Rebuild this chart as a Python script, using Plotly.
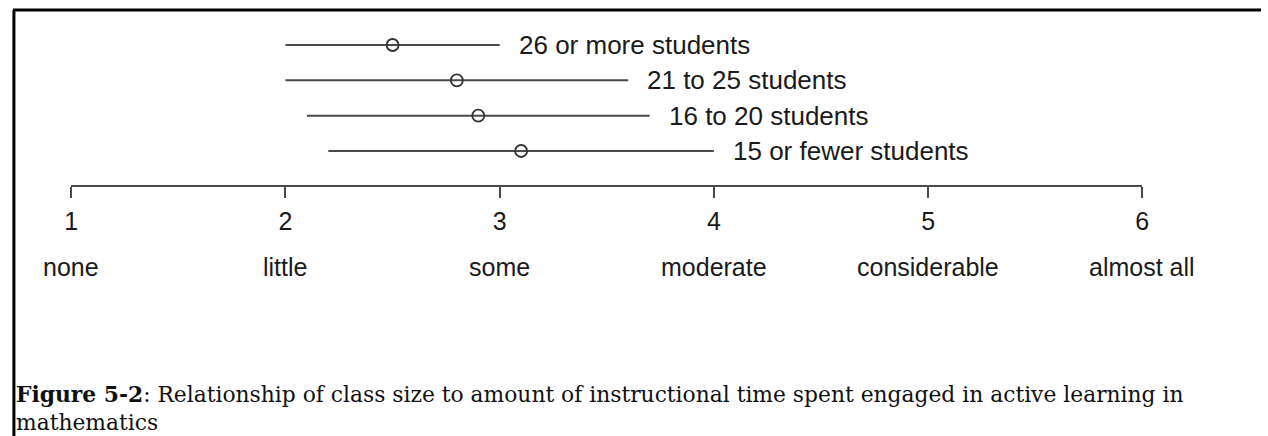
import plotly.graph_objects as go

# ---- data ----
groups = ["26 or more students", "21 to 25 students", "16 to 20 students", "15 or fewer students"]
low = [2.0, 2.0, 2.1, 2.2]
mean = [2.5, 2.8, 2.9, 3.1]
high = [3.0, 3.6, 3.7, 4.0]
rows = [1, 2, 3, 4]
tick_vals = [1, 2, 3, 4, 5, 6]
tick_names = ["none", "little", "some", "moderate", "considerable", "almost all"]
caption = ("<b>Figure 5-2</b>: Relationship of class size to amount of instructional time "
           "spent engaged in active learning in<br>mathematics")

W, H = 1268, 436
ink = "#4a4a4a"
sans = "Liberation Sans, Arial, sans-serif"

fig = go.Figure()

for g, lo, m, hi, r in zip(groups, low, mean, high, rows):
    fig.add_trace(go.Scatter(
        x=[lo, hi], y=[r, r], mode="lines",
        line=dict(color=ink, width=2), showlegend=False, hoverinfo="skip"))
    fig.add_trace(go.Scatter(
        x=[m], y=[r], mode="markers",
        marker=dict(symbol="circle-open", size=12, color="#333333", line=dict(width=1.8)),
        showlegend=False))
    fig.add_annotation(x=hi, y=r, xref="x", yref="y", text=g, showarrow=False,
                       xanchor="left", yanchor="middle", xshift=17,
                       font=dict(family=sans, size=26, color="#1a1a1a"))

for v, name in zip(tick_vals, tick_names):
    fig.add_annotation(x=v, y=1 - 267 / H, xref="x", yref="paper", text=name,
                       showarrow=False, xanchor="center", yanchor="middle",
                       font=dict(family=sans, size=25, color="#1a1a1a"))

fig.add_annotation(x=9 / W, y=1 - 435 / H, xref="paper", yref="paper",
                   text=caption, showarrow=False, xanchor="left", yanchor="bottom",
                   align="left", borderpad=0, borderwidth=0,
                   font=dict(family="DejaVu Serif, serif", size=21.8, color="#111111"))

# frame (top and left edges of the cropped figure box)
fig.add_shape(type="line", xref="paper", yref="paper", x0=6 / W, x1=1.0,
              y0=1 - 10 / H, y1=1 - 10 / H, line=dict(color="black", width=3))
fig.add_shape(type="line", xref="paper", yref="paper", x0=7 / W, x1=7 / W,
              y0=0, y1=1 - 10 / H, line=dict(color="black", width=3))

fig.update_layout(
    width=W, height=H, margin=dict(l=0, r=0, t=0, b=0),
    paper_bgcolor="white", plot_bgcolor="white",
    xaxis=dict(domain=[65 / W, 1148 / W], range=[1, 6], tickvals=tick_vals,
               showline=True, linecolor=ink, linewidth=2, ticks="outside",
               ticklen=11, tickwidth=1.5, tickcolor=ink, showgrid=False, zeroline=False,
               anchor="free", position=1 - 186 / H, side="bottom",
               ticklabelstandoff=2,
               tickfont=dict(family=sans, size=25, color="#1a1a1a")),
    yaxis=dict(domain=[0, 1], range=[1 + 391 / 35.33, 1 - 45 / 35.33],
               visible=False, showgrid=False, zeroline=False),
)

fig.write_html(
    "out.html", config={"displayModeBar": False},
    post_script=("document.body.style.margin='0';"
                 "document.body.style.overflow='hidden';"
                 "document.documentElement.style.overflow='hidden';"))
